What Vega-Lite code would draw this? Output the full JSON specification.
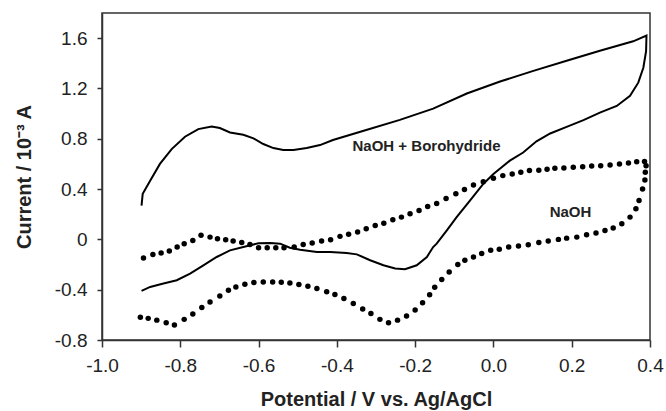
{
  "$schema": "https://vega.github.io/schema/vega-lite/v6.json",
  "width": 548,
  "height": 327,
  "autosize": {"type": "none"},
  "padding": {"left": 102, "top": 13, "right": 16, "bottom": 71},
  "background": "white",
  "config": {
    "view": {"stroke": "#333", "strokeWidth": 1.5},
    "font": "Liberation Sans",
    "axis": {
      "grid": false,
      "domainColor": "#333",
      "domainWidth": 1.5,
      "tickColor": "#333",
      "tickWidth": 1.5,
      "labelFont": "Liberation Sans",
      "labelColor": "#222",
      "labelFontSize": 19,
      "titleFont": "Liberation Sans",
      "titleFontWeight": "bold",
      "titleColor": "#222",
      "titleFontSize": 20
    }
  },
  "datasets": {
    "borohydride": [
      {"k": 1, "E": -0.899, "I": 0.269},
      {"k": 2, "E": -0.898, "I": 0.300},
      {"k": 3, "E": -0.896, "I": 0.362},
      {"k": 4, "E": -0.877, "I": 0.467},
      {"k": 5, "E": -0.852, "I": 0.600},
      {"k": 6, "E": -0.822, "I": 0.718},
      {"k": 7, "E": -0.788, "I": 0.816},
      {"k": 8, "E": -0.754, "I": 0.877},
      {"k": 9, "E": -0.720, "I": 0.898},
      {"k": 10, "E": -0.699, "I": 0.885},
      {"k": 11, "E": -0.673, "I": 0.850},
      {"k": 12, "E": -0.639, "I": 0.832},
      {"k": 13, "E": -0.613, "I": 0.803},
      {"k": 14, "E": -0.588, "I": 0.758},
      {"k": 15, "E": -0.562, "I": 0.726},
      {"k": 16, "E": -0.537, "I": 0.710},
      {"k": 17, "E": -0.511, "I": 0.710},
      {"k": 18, "E": -0.477, "I": 0.726},
      {"k": 19, "E": -0.443, "I": 0.750},
      {"k": 20, "E": -0.410, "I": 0.790},
      {"k": 21, "E": -0.325, "I": 0.870},
      {"k": 22, "E": -0.239, "I": 0.950},
      {"k": 23, "E": -0.154, "I": 1.040},
      {"k": 24, "E": -0.068, "I": 1.160},
      {"k": 25, "E": 0.017, "I": 1.255},
      {"k": 26, "E": 0.102, "I": 1.340},
      {"k": 27, "E": 0.187, "I": 1.420},
      {"k": 28, "E": 0.272, "I": 1.500},
      {"k": 29, "E": 0.357, "I": 1.575},
      {"k": 30, "E": 0.391, "I": 1.620},
      {"k": 31, "E": 0.390, "I": 1.497},
      {"k": 32, "E": 0.383, "I": 1.365},
      {"k": 33, "E": 0.370, "I": 1.246},
      {"k": 34, "E": 0.349, "I": 1.141},
      {"k": 35, "E": 0.315, "I": 1.061},
      {"k": 36, "E": 0.272, "I": 1.008},
      {"k": 37, "E": 0.230, "I": 0.948},
      {"k": 38, "E": 0.187, "I": 0.895},
      {"k": 39, "E": 0.145, "I": 0.842},
      {"k": 40, "E": 0.110, "I": 0.780},
      {"k": 41, "E": 0.076, "I": 0.691},
      {"k": 42, "E": 0.042, "I": 0.626},
      {"k": 43, "E": 0.000, "I": 0.520},
      {"k": 44, "E": -0.026, "I": 0.441},
      {"k": 45, "E": -0.060, "I": 0.309},
      {"k": 46, "E": -0.094, "I": 0.177},
      {"k": 47, "E": -0.119, "I": 0.071},
      {"k": 48, "E": -0.145, "I": -0.034},
      {"k": 49, "E": -0.154, "I": -0.061},
      {"k": 50, "E": -0.170, "I": -0.140},
      {"k": 51, "E": -0.196, "I": -0.206},
      {"k": 52, "E": -0.226, "I": -0.238},
      {"k": 53, "E": -0.251, "I": -0.232},
      {"k": 54, "E": -0.281, "I": -0.206},
      {"k": 55, "E": -0.315, "I": -0.166},
      {"k": 56, "E": -0.349, "I": -0.119},
      {"k": 57, "E": -0.375, "I": -0.108},
      {"k": 58, "E": -0.417, "I": -0.100},
      {"k": 59, "E": -0.451, "I": -0.100},
      {"k": 60, "E": -0.494, "I": -0.082},
      {"k": 61, "E": -0.520, "I": -0.066},
      {"k": 62, "E": -0.545, "I": -0.034},
      {"k": 63, "E": -0.570, "I": -0.029},
      {"k": 64, "E": -0.600, "I": -0.031},
      {"k": 65, "E": -0.613, "I": -0.040},
      {"k": 66, "E": -0.639, "I": -0.061},
      {"k": 67, "E": -0.673, "I": -0.087},
      {"k": 68, "E": -0.707, "I": -0.140},
      {"k": 69, "E": -0.741, "I": -0.206},
      {"k": 70, "E": -0.775, "I": -0.272},
      {"k": 71, "E": -0.809, "I": -0.325},
      {"k": 72, "E": -0.843, "I": -0.351},
      {"k": 73, "E": -0.877, "I": -0.378},
      {"k": 74, "E": -0.899, "I": -0.409}
    ],
    "naoh": [
      {"E": -0.894, "I": -0.148}, {"E": -0.870, "I": -0.121}, {"E": -0.849, "I": -0.108},
      {"E": -0.828, "I": -0.092}, {"E": -0.808, "I": -0.061}, {"E": -0.790, "I": -0.034},
      {"E": -0.768, "I": -0.008}, {"E": -0.747, "I": 0.032}, {"E": -0.724, "I": 0.018},
      {"E": -0.705, "I": 0.005}, {"E": -0.684, "I": -0.003}, {"E": -0.665, "I": -0.013},
      {"E": -0.643, "I": -0.024}, {"E": -0.622, "I": -0.040}, {"E": -0.600, "I": -0.066},
      {"E": -0.578, "I": -0.066}, {"E": -0.556, "I": -0.066}, {"E": -0.535, "I": -0.066},
      {"E": -0.509, "I": -0.061}, {"E": -0.486, "I": -0.040}, {"E": -0.463, "I": -0.029},
      {"E": -0.439, "I": -0.013}, {"E": -0.416, "I": -0.003}, {"E": -0.392, "I": 0.024},
      {"E": -0.370, "I": 0.040}, {"E": -0.347, "I": 0.058}, {"E": -0.325, "I": 0.085},
      {"E": -0.302, "I": 0.111}, {"E": -0.280, "I": 0.129}, {"E": -0.257, "I": 0.156},
      {"E": -0.235, "I": 0.177}, {"E": -0.213, "I": 0.204}, {"E": -0.190, "I": 0.230},
      {"E": -0.168, "I": 0.261}, {"E": -0.145, "I": 0.285}, {"E": -0.121, "I": 0.325},
      {"E": -0.096, "I": 0.362}, {"E": -0.074, "I": 0.396}, {"E": -0.051, "I": 0.433},
      {"E": -0.026, "I": 0.459}, {"E": 0.000, "I": 0.486}, {"E": 0.024, "I": 0.507},
      {"E": 0.048, "I": 0.520}, {"E": 0.070, "I": 0.533}, {"E": 0.092, "I": 0.547},
      {"E": 0.116, "I": 0.549}, {"E": 0.137, "I": 0.557}, {"E": 0.157, "I": 0.565},
      {"E": 0.180, "I": 0.568}, {"E": 0.204, "I": 0.573}, {"E": 0.228, "I": 0.578},
      {"E": 0.251, "I": 0.583}, {"E": 0.274, "I": 0.586}, {"E": 0.298, "I": 0.592},
      {"E": 0.322, "I": 0.600}, {"E": 0.345, "I": 0.608}, {"E": 0.366, "I": 0.618},
      {"E": 0.386, "I": 0.620}, {"E": 0.390, "I": 0.586}, {"E": 0.388, "I": 0.533},
      {"E": 0.387, "I": 0.473}, {"E": 0.381, "I": 0.401}, {"E": 0.372, "I": 0.309},
      {"E": 0.364, "I": 0.243}, {"E": 0.349, "I": 0.177}, {"E": 0.328, "I": 0.124},
      {"E": 0.306, "I": 0.090}, {"E": 0.285, "I": 0.071}, {"E": 0.262, "I": 0.050},
      {"E": 0.238, "I": 0.037}, {"E": 0.213, "I": 0.018}, {"E": 0.187, "I": 0.010},
      {"E": 0.166, "I": 0.000}, {"E": 0.140, "I": -0.012}, {"E": 0.116, "I": -0.025},
      {"E": 0.089, "I": -0.042}, {"E": 0.064, "I": -0.053}, {"E": 0.039, "I": -0.061},
      {"E": 0.015, "I": -0.079}, {"E": -0.007, "I": -0.087}, {"E": -0.030, "I": -0.113},
      {"E": -0.051, "I": -0.140}, {"E": -0.073, "I": -0.166}, {"E": -0.091, "I": -0.200},
      {"E": -0.113, "I": -0.259}, {"E": -0.132, "I": -0.319}, {"E": -0.150, "I": -0.380},
      {"E": -0.163, "I": -0.440}, {"E": -0.181, "I": -0.504}, {"E": -0.200, "I": -0.562},
      {"E": -0.222, "I": -0.610}, {"E": -0.245, "I": -0.642}, {"E": -0.268, "I": -0.663},
      {"E": -0.290, "I": -0.636}, {"E": -0.313, "I": -0.589}, {"E": -0.334, "I": -0.554},
      {"E": -0.358, "I": -0.510}, {"E": -0.382, "I": -0.470}, {"E": -0.405, "I": -0.438},
      {"E": -0.426, "I": -0.417}, {"E": -0.451, "I": -0.391}, {"E": -0.474, "I": -0.372},
      {"E": -0.497, "I": -0.359}, {"E": -0.520, "I": -0.346}, {"E": -0.542, "I": -0.340},
      {"E": -0.564, "I": -0.338}, {"E": -0.588, "I": -0.338}, {"E": -0.612, "I": -0.343},
      {"E": -0.635, "I": -0.356}, {"E": -0.658, "I": -0.378}, {"E": -0.677, "I": -0.404},
      {"E": -0.699, "I": -0.451}, {"E": -0.724, "I": -0.497}, {"E": -0.745, "I": -0.541},
      {"E": -0.768, "I": -0.594}, {"E": -0.790, "I": -0.636}, {"E": -0.815, "I": -0.681},
      {"E": -0.836, "I": -0.663}, {"E": -0.860, "I": -0.642}, {"E": -0.882, "I": -0.628},
      {"E": -0.902, "I": -0.619}
    ],
    "labels": [
      {"E": -0.171, "I": 0.745, "text": "NaOH + Borohydride"},
      {"E": 0.197, "I": 0.215, "text": "NaOH"}
    ]
  },
  "layer": [
    {
      "data": {"name": "borohydride"},
      "mark": {"type": "line", "color": "black", "strokeWidth": 2},
      "encoding": {
        "x": {
          "field": "E",
          "type": "quantitative",
          "scale": {"domain": [-1.0, 0.4], "nice": false, "zero": false},
          "axis": {
            "title": "Potential / V vs. Ag/AgCl",
            "values": [-1.0, -0.8, -0.6, -0.4, -0.2, 0.0, 0.2, 0.4],
            "labelExpr": "replace(format(datum.value, '.1f'), '−', '-')",
            "tickSize": 7,
            "labelPadding": 9,
            "titlePadding": 14,
            "labelFlush": false,
            "labelOverlap": false
          }
        },
        "y": {
          "field": "I",
          "type": "quantitative",
          "scale": {"domain": [-0.8, 1.8], "nice": false, "zero": false},
          "axis": {
            "title": "Current / 10⁻³ A",
            "values": [-0.8, -0.6, -0.4, -0.2, 0, 0.2, 0.4, 0.6, 0.8, 1.0, 1.2, 1.4, 1.6, 1.8],
            "labelExpr": "abs(round(datum.value * 10)) % 4 != 0 ? '' : (datum.value == 0 ? '0' : replace(format(datum.value, '.1f'), '−', '-'))",
            "tickSize": 5,
            "labelPadding": 10,
            "titlePadding": 20,
            "labelFlush": false,
            "labelOverlap": false
          }
        },
        "order": {"field": "k", "type": "quantitative"}
      }
    },
    {
      "data": {"name": "naoh"},
      "mark": {"type": "circle", "color": "black", "opacity": 1, "size": 30},
      "encoding": {
        "x": {"field": "E", "type": "quantitative"},
        "y": {"field": "I", "type": "quantitative"}
      }
    },
    {
      "data": {"name": "labels"},
      "mark": {"type": "text", "font": "Liberation Sans", "fontWeight": "bold", "fontSize": 15, "color": "#222", "align": "center", "baseline": "middle"},
      "encoding": {
        "x": {"field": "E", "type": "quantitative"},
        "y": {"field": "I", "type": "quantitative"},
        "text": {"field": "text"}
      }
    }
  ]
}
